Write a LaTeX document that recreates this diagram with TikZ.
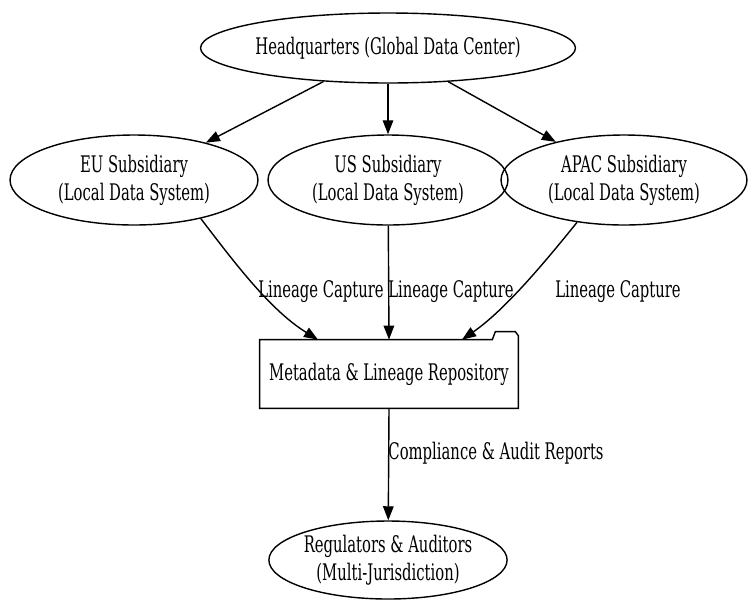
\documentclass[tikz,border=0pt]{standalone}
\usepackage{fontspec}
\setmainfont{DejaVu Serif Condensed}[FakeStretch=0.72]
\usetikzlibrary{shapes.geometric,arrows.meta,calc}
\tikzset{
  site/.style={ellipse,draw,line width=0.8pt,inner sep=0pt,align=center,font=\fontsize{13}{16}\selectfont},
  store/.style={inner sep=0pt,minimum width=5.16cm,minimum height=1.36cm,font=\fontsize{13}{16}\selectfont},
  arr/.style={-{Triangle[length=8pt,width=6pt]},line width=0.8pt},
  lbl/.style={inner sep=0pt,font=\fontsize{13}{16}\selectfont}
}
\begin{document}
\begin{tikzpicture}[x=0.02cm,y=-0.02cm]
\useasboundingbox (0,0) rectangle (756,606);
% sources
\node[site,minimum width=7.2cm,minimum height=1.4cm] (hq) at (388,48) {Headquarters (Global Data Center)};
\node[site,minimum width=4.96cm,minimum height=1.8cm] (eu) at (134,180) {EU Subsidiary\\(Local Data System)};
\node[site,minimum width=4.8cm,minimum height=1.8cm] (us) at (388,180) {US Subsidiary\\(Local Data System)};
\node[site,minimum width=4.92cm,minimum height=1.8cm] (apac) at (624,180) {APAC Subsidiary\\(Local Data System)};
% repository (folder)
\node[store] (repo) at (389,374) {Metadata \& Lineage Repository};
\draw[line width=0.8pt] (repo.south west) -- (repo.north west) -- ($(repo.north east)+(-26,0)$)
  -- ++(3,-8) -- ++(20,0) -- ++(3,4) -- (repo.south east) -- cycle;
\coordinate (in1) at ($(repo.north)+(-71,0)$);
\coordinate (in3) at ($(repo.north)+(73,0)$);
\node[site,minimum width=4.72cm,minimum height=1.56cm] (reg) at (388,560) {Regulators \& Auditors\\(Multi-Jurisdiction)};
% edges
\draw[arr] (hq) -- (eu);
\draw[arr] (hq) -- (us);
\draw[arr] (hq) -- (apac);
\draw[arr] (eu.-30) .. controls (234,262) and (270,310) .. (in1);
\draw[arr] (us) -- (repo.north);
\draw[arr] (apac.-138) .. controls (545,262) and (505,310) .. (in3);
\draw[arr] (repo.south) -- (reg);
% labels
\node[lbl] (l1) at (321,292) {Lineage Capture};
\node[lbl] (l2) at (451,292) {Lineage Capture};
\node[lbl] (l3) at (618,292) {Lineage Capture};
\node[lbl] (l4) at (496,453) {Compliance \& Audit Reports};
\end{tikzpicture}
\end{document}
